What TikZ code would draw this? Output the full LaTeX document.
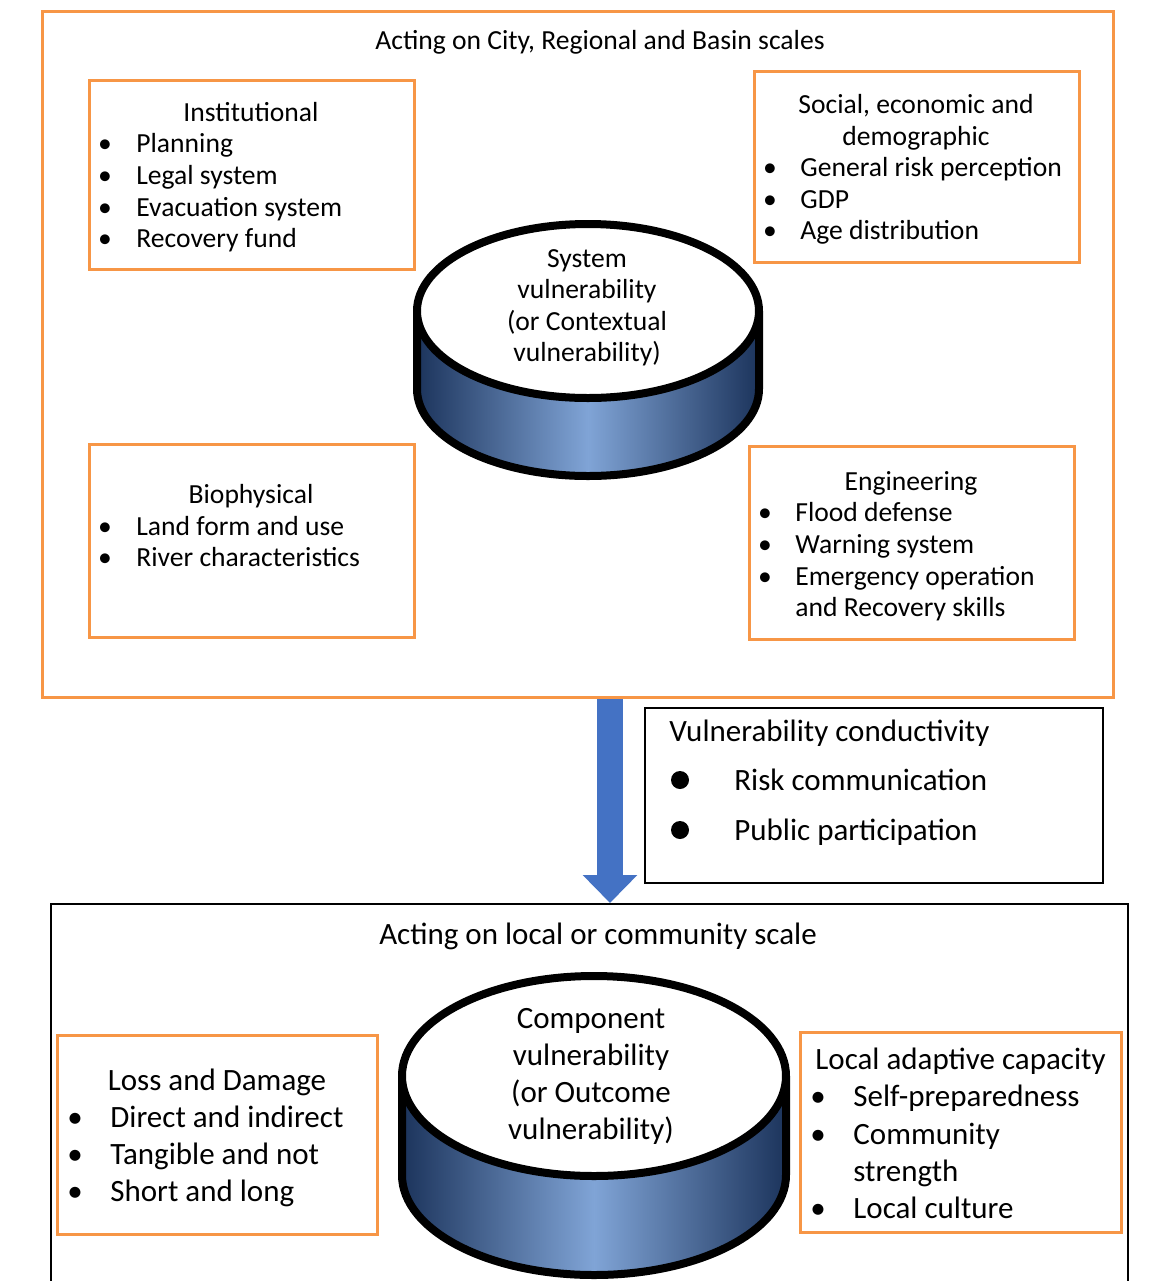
\documentclass[tikz,border=0pt]{standalone}
\usepackage{fontspec}
\setmainfont{Carlito}
\usetikzlibrary{fit,arrows.meta,backgrounds}

\definecolor{boxorange}{RGB}{247,150,70}
\definecolor{arrowblue}{RGB}{68,114,196}
\definecolor{discdark}{RGB}{28,52,92}
\definecolor{disclight}{RGB}{128,164,214}

\tikzset{
	orangebox/.style={draw=boxorange, line width=1.5pt, inner sep=0pt},
	blackbox/.style={draw=black, line width=1pt, inner sep=0pt},
	smalltxt/.style={font=\fontsize{13.8pt}{15.75pt}\selectfont, inner sep=0pt, yshift=-2.5pt},
	largetxt/.style={font=\fontsize{15.5pt}{18.5pt}\selectfont, inner sep=0pt, yshift=-2.8pt},
	dot/.style={circle, fill=black, inner sep=0pt, minimum size=9pt},
	discedge/.style={draw=black, line width=4pt, line join=round},
	discside/.style={left color=discdark, right color=discdark, middle color=disclight},
	flowarrow/.style={arrowblue, line width=13pt, -{Triangle[length=14pt, width=26.5pt]}}
}

\begin{document}
\begin{tikzpicture}[x=0.5pt, y=0.5pt]

	\useasboundingbox (0,0) rectangle (1159,-1281);
	\clip (0,0) rectangle (1159,-1281);

	% the two scales
	\node[orangebox, fit={(42,-11) (1113,-697)}] (city) {};
	\node[blackbox, fit={(51,-904) (1128,-1330)}] (local) {};

	\node[smalltxt, anchor=mid] (citytitle) at (600,-40) {Acting on City, Regional and Basin scales};
	\node[largetxt, anchor=mid] (localtitle) at (598,-934) {Acting on local or community scale};

	% system vulnerability disc
	\path[discside] (417,-311) -- (417,-389) arc[start angle=180, end angle=360, x radius=171, y radius=87]
		-- (759,-311) arc[start angle=0, end angle=-180, x radius=171, y radius=87] -- cycle;
	\draw[discedge] (417,-311) -- (417,-389) arc[start angle=180, end angle=360, x radius=171, y radius=87] -- (759,-311);
	\draw[discedge, fill=white] (588,-311) ellipse[x radius=171, y radius=87];
	\node[smalltxt, align=center] (sysv) at (587,-303) {System\\vulnerability\\(or Contextual\\vulnerability)};

	% component vulnerability disc
	\path[discside] (402,-1076) -- (402,-1175) arc[start angle=180, end angle=360, x radius=192, y radius=100]
		-- (786,-1076) arc[start angle=0, end angle=-180, x radius=192, y radius=100] -- cycle;
	\draw[discedge] (402,-1076) -- (402,-1175) arc[start angle=180, end angle=360, x radius=192, y radius=100] -- (786,-1076);
	\draw[discedge, fill=white] (594,-1076) ellipse[x radius=192, y radius=100];
	\node[largetxt, align=center] (compv) at (591,-1071) {Component\\vulnerability\\(or Outcome\\vulnerability)};

	% institutional
	\node[orangebox, fit={(89,-80) (414,-269)}] (inst) {};
	\node[smalltxt, anchor=mid] (insttitle) at (251,-112) {Institutional};
	\node[smalltxt, anchor=mid] at (105,-143) {•};
	\node[smalltxt, anchor=mid west] (plan) at (136,-143) {Planning};
	\node[smalltxt, anchor=mid] at (105,-175) {•};
	\node[smalltxt, anchor=mid west] (legal) at (136,-175) {Legal system};
	\node[smalltxt, anchor=mid] at (105,-207) {•};
	\node[smalltxt, anchor=mid west] (evac) at (136,-207) {Evacuation system};
	\node[smalltxt, anchor=mid] at (105,-238) {•};
	\node[smalltxt, anchor=mid west] (fund) at (136,-238) {Recovery fund};

	% social, economic and demographic
	\node[orangebox, fit={(754,-71) (1079,-262)}] (soc) {};
	\node[smalltxt, anchor=mid] (soctitle) at (916,-104) {Social, economic and};
	\node[smalltxt, anchor=mid] (soctitleb) at (916,-136) {demographic};
	\node[smalltxt, anchor=mid] at (770,-167) {•};
	\node[smalltxt, anchor=mid west] (perc) at (800,-167) {General risk perception};
	\node[smalltxt, anchor=mid] at (770,-199) {•};
	\node[smalltxt, anchor=mid west] (gdp) at (800,-199) {GDP};
	\node[smalltxt, anchor=mid] at (770,-230) {•};
	\node[smalltxt, anchor=mid west] (age) at (800,-230) {Age distribution};

	% biophysical
	\node[orangebox, fit={(89,-444) (414,-637)}] (bio) {};
	\node[smalltxt, anchor=mid] (biotitle) at (251,-494) {Biophysical};
	\node[smalltxt, anchor=mid] at (105,-526) {•};
	\node[smalltxt, anchor=mid west] (land) at (136,-526) {Land form and use};
	\node[smalltxt, anchor=mid] at (105,-557) {•};
	\node[smalltxt, anchor=mid west] (river) at (136,-557) {River characteristics};

	% engineering
	\node[orangebox, fit={(749,-446) (1074,-639)}] (eng) {};
	\node[smalltxt, anchor=mid] (engtitle) at (911,-481) {Engineering};
	\node[smalltxt, anchor=mid] at (765,-512) {•};
	\node[smalltxt, anchor=mid west] (flood) at (795,-512) {Flood defense};
	\node[smalltxt, anchor=mid] at (765,-544) {•};
	\node[smalltxt, anchor=mid west] (warn) at (795,-544) {Warning system};
	\node[smalltxt, anchor=mid] at (765,-576) {•};
	\node[smalltxt, anchor=mid west] (emerg) at (795,-576) {Emergency operation};
	\node[smalltxt, anchor=mid west] (skills) at (795,-607) {and Recovery skills};

	% vulnerability conductivity
	\node[blackbox, fit={(645,-708) (1103,-883)}] (cond) {};
	\node[largetxt, anchor=mid west] (condtitle) at (669,-731) {Vulnerability conductivity};
	\node[dot] at (680,-780) {};
	\node[largetxt, anchor=mid west] (comm) at (734,-780) {Risk communication};
	\node[dot] at (680,-830) {};
	\node[largetxt, anchor=mid west] (part) at (734,-830) {Public participation};

	% loss and damage
	\node[orangebox, fit={(57,-1035) (377,-1234)}] (loss) {};
	\node[largetxt, anchor=mid] (losstitle) at (217,-1080) {Loss and Damage};
	\node[largetxt, anchor=mid] at (75,-1117) {•};
	\node[largetxt, anchor=mid west] (direct) at (110,-1117) {Direct and indirect};
	\node[largetxt, anchor=mid] at (75,-1154) {•};
	\node[largetxt, anchor=mid west] (tang) at (110,-1154) {Tangible and not};
	\node[largetxt, anchor=mid] at (75,-1191) {•};
	\node[largetxt, anchor=mid west] (short) at (110,-1191) {Short and long};

	% local adaptive capacity
	\node[orangebox, fit={(800,-1032) (1121,-1232)}] (adapt) {};
	\node[largetxt, anchor=mid west] (adapttitle) at (815,-1059) {Local adaptive capacity};
	\node[largetxt, anchor=mid] at (818,-1096) {•};
	\node[largetxt, anchor=mid west] (selfp) at (853,-1096) {Self-preparedness};
	\node[largetxt, anchor=mid] at (818,-1134) {•};
	\node[largetxt, anchor=mid west] (commun) at (853,-1134) {Community};
	\node[largetxt, anchor=mid west] (strength) at (853,-1171) {strength};
	\node[largetxt, anchor=mid] at (818,-1208) {•};
	\node[largetxt, anchor=mid west] (culture) at (853,-1208) {Local culture};

	% from system to component vulnerability
	\coordinate (arrx) at (610,0);
	\begin{pgfonlayer}{background}
		\draw[flowarrow] (city.south -| arrx) -- (local.north -| arrx);
	\end{pgfonlayer}

\end{tikzpicture}
\end{document}
